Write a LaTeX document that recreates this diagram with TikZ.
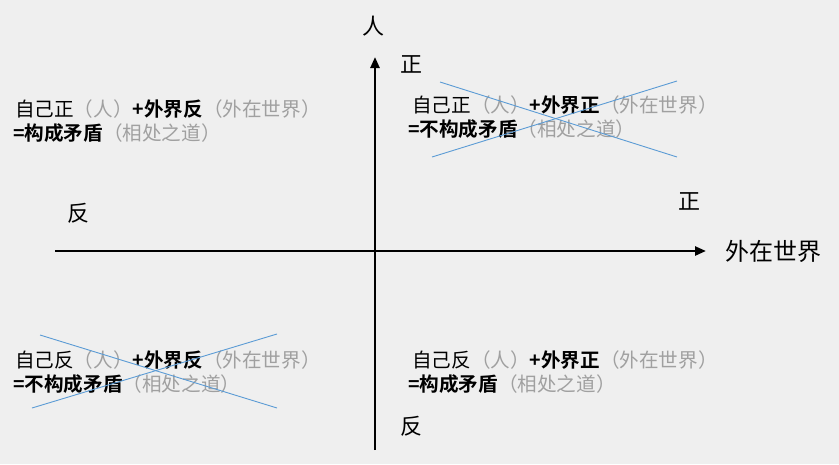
\documentclass[tikz,border=0pt]{standalone}
\usepackage{fontspec}
\setmainfont{Liberation Sans}
\newfontfamily\cjk{Noto Sans CJK SC}[BoldFont={Noto Sans CJK SC Bold}]
\usetikzlibrary{arrows.meta}
\definecolor{bg}{HTML}{EFEFEF}
\definecolor{grayt}{HTML}{A0A0A0}
\definecolor{xblue}{HTML}{5B9BD5}
\tikzset{
  axis/.style={line width=2.4pt, -{Triangle[length=11pt,width=9pt]}},
  axlabel/.style={font=\cjk\fontsize{22}{24}\selectfont, inner sep=0pt},
  txt/.style={font=\cjk\fontsize{19.6}{22}\selectfont, inner sep=0pt, anchor=west},
  xline/.style={draw=xblue, line width=0.9pt}
}
\newcommand{\gt}[1]{\textcolor{grayt}{#1}}
\begin{document}
\begin{tikzpicture}[x=1pt,y=-1pt]
\fill[bg] (0,0) rectangle (839,464);
\useasboundingbox (0,0) rectangle (839,464);
% axes
\coordinate (vb) at (375,450);
\coordinate (vt) at (375,57);
\coordinate (hl) at (55,251);
\coordinate (hr) at (706,251);
\draw[axis] (vb) -- (vt);
\draw[axis] (hl) -- (hr);
% axis labels
\node[axlabel] (ren) at (373,26) {人};
\node[axlabel] (zt) at (411,64) {正};
\node[axlabel] (zr) at (689,201) {正};
\node[axlabel, font=\cjk\fontsize{24}{26}\selectfont] (wj) at (773,251) {外在世界};
\node[axlabel] (fl) at (78,213) {反};
\node[axlabel] (fb) at (411,426) {反};
% quadrant texts
\node[txt] (tl1) at (15,109) {自己正\gt{（人）}\textbf{+外界反}\gt{（外在世界）}};
\node[txt] (tl2) at (13,133) {\textbf{=构成矛盾}\gt{（相处之道）}};
\node[txt] (tr1) at (412,105) {自己正\gt{（人）}\textbf{+外界正}\gt{（外在世界）}};
\node[txt] (tr2) at (408,129) {\textbf{=不构成矛盾}\gt{（相处之道）}};
\node[txt] (bl1) at (15,360) {自己反\gt{（人）}\textbf{+外界反}\gt{（外在世界）}};
\node[txt] (bl2) at (13,384) {\textbf{=不构成矛盾}\gt{（相处之道）}};
\node[txt] (br1) at (412,360) {自己反\gt{（人）}\textbf{+外界正}\gt{（外在世界）}};
\node[txt] (br2) at (408,384) {\textbf{=构成矛盾}\gt{（相处之道）}};
% crosses
\coordinate (a1) at (440,82);
\coordinate (a2) at (677,157);
\coordinate (a3) at (432,157);
\coordinate (a4) at (677,81);
\draw[xline] (a1) -- (a2);
\draw[xline] (a3) -- (a4);
\coordinate (b1) at (40,335);
\coordinate (b2) at (277,408);
\coordinate (b3) at (32,408);
\coordinate (b4) at (277,334);
\draw[xline] (b1) -- (b2);
\draw[xline] (b3) -- (b4);
\end{tikzpicture}
\end{document}
